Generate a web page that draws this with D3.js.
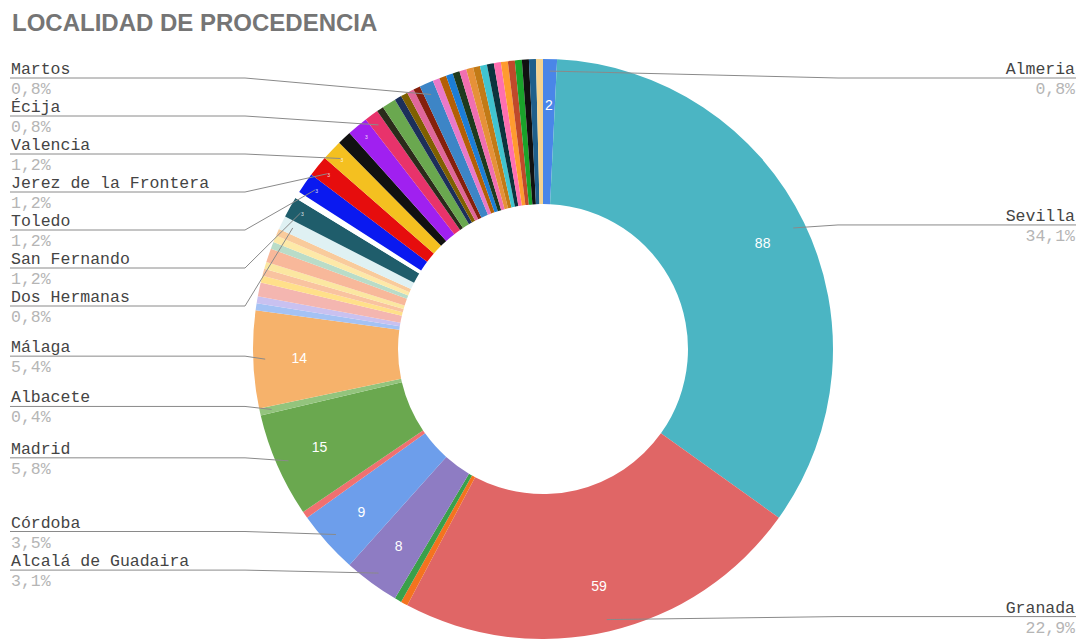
<!DOCTYPE html>
<html>
<head>
<meta charset="utf-8">
<script src="https://cdn.jsdelivr.net/npm/d3@7"></script>
<style>
  html, body { margin: 0; padding: 0; background: #fff; }
  svg { display: block; }
</style>
</head>
<body>
<svg id="chart" width="1083" height="639"></svg>
<script>
// Place of origin: one slice per locality, drawn clockwise from 12 o'clock.
// Unnamed localities carry null and get no outside label.
const categories = [
  "Almeria", "Sevilla", "Granada", null, null, "Alcalá de Guadaira", "Córdoba", null,
  "Madrid", "Albacete", "Málaga",
  null, null, null, null, null, null, null, null, null, null,
  "Dos Hermanas", "San Fernando", null, "Toledo", "Jerez de la Frontera", "Valencia", null, null,
  "Écija",
  null, null, null, null, null, null,
  "Martos",
  null, null, null, null,
  null, null, null, null, null, null, null, null, null, null, null, null
];

const values = [
  2, 88, 59, 1, 1, 8, 9, 1,
  15, 1, 14,
  1, 1, 2, 1, 1, 1, 2, 1, 1, 1,
  2, 3, 1, 3, 3, 3, 2, 3,
  2,
  1, 2, 1, 1, 1, 1,
  2,
  1, 1, 1, 1,
  1, 1, 1, 1, 1, 1, 1, 1, 1, 1, 1, 1
];

const colors = [
  "#4a86e8", "#4bb5c3", "#e06666", "#f4731f", "#3aa04a", "#8e7cc3", "#6d9eeb", "#f07070",
  "#6aa84f", "#93c47d", "#f6b26b",
  "#a4c2f4", "#c9c1f0", "#f4b6b0", "#ffe08a", "#f9c3a0", "#fbe7a1", "#f8b89a", "#b9dcc8", "#fde9a8", "#f9cb9c",
  "#dff1f3", "#1f5d6b", "#ffffff", "#0a19f0", "#e60d0d", "#f4c020", "#111111", "#a020f0",
  "#e8336b",
  "#2b2b1b", "#6aa84f", "#1c2f5a", "#7f6000", "#e06699", "#85200c",
  "#3d85c6",
  "#ea79c9", "#b45f06", "#1c7ed6", "#1e3a1e",
  "#f06fb0", "#e69138", "#c27a16", "#40c4d0", "#0c343d", "#ff6fb0", "#ff9b2f", "#c0492b", "#1aa32a", "#111111", "#1f5f8b", "#f6d38e"
];

const title = "LOCALIDAD DE PROCEDENCIA";

const W = 1083, H = 639;
const cx = 543, cy = 349;
const outerR = 290, innerR = 145;

const svg = d3.select("#chart");

svg.append("text")
  .attr("x", 12).attr("y", 31)
  .attr("font-family", "Arial, 'Liberation Sans', sans-serif")
  .attr("font-weight", "bold")
  .attr("font-size", 24)
  .attr("fill", "#757575")
  .text(title);

const rows = values.map((v, i) => ({ name: categories[i], value: v, color: colors[i] }));
const total = d3.sum(values);

const pie = d3.pie().sort(null).value(d => d.value).startAngle(0).endAngle(2 * Math.PI);
const arcs = pie(rows);

const arc = d3.arc().innerRadius(innerR).outerRadius(outerR);

const g = svg.append("g").attr("transform", `translate(${cx},${cy})`);

g.selectAll("path.slice")
  .data(arcs)
  .join("path")
  .attr("class", "slice")
  .attr("d", arc)
  .attr("fill", d => d.data.color);

// value text inside the ring
const midAngle = d => (d.startAngle + d.endAngle) / 2;
const polar = (a, r) => [Math.sin(a) * r, -Math.cos(a) * r];

g.selectAll("text.val")
  .data(arcs.filter(d => d.value >= 8 || d.index === 0))
  .join("text")
  .attr("class", "val")
  .attr("x", d => polar(midAngle(d), 244)[0])
  .attr("y", d => polar(midAngle(d), 244)[1])
  .attr("dy", "0.35em")
  .attr("text-anchor", "middle")
  .attr("font-family", "Arial, 'Liberation Sans', sans-serif")
  .attr("font-size", 14)
  .attr("fill", "#ffffff")
  .text(d => d.value);

g.selectAll("text.valsmall")
  .data(arcs.filter(d => d.value === 3))
  .join("text")
  .attr("class", "valsmall")
  .attr("x", d => polar(midAngle(d), 276)[0])
  .attr("y", d => polar(midAngle(d), 276)[1])
  .attr("dy", "0.35em")
  .attr("text-anchor", "middle")
  .attr("font-family", "Arial, 'Liberation Sans', sans-serif")
  .attr("font-size", 5)
  .attr("fill", "#ffffff")
  .attr("opacity", 0.85)
  .text(d => d.value);

// outside labels with leader lines
const fmtPct = v => (v / total * 100).toFixed(1).replace(".", ",") + "%";
const labelGap = 38, topY = 78, bottomY = 620;

function layout(list) {
  list.sort((a, b) => a.want - b.want);
  // merge overlapping labels into clusters centred on their wanted positions
  let clusters = list.map(l => ({ items: [l], want: l.want }));
  let changed = true;
  const place = c => {
    const n = c.items.length;
    const mean = d3.mean(c.items, l => l.want);
    c.start = mean - (n - 1) * labelGap / 2;
    c.start = Math.max(topY, Math.min(c.start, bottomY - (n - 1) * labelGap));
    c.end = c.start + (n - 1) * labelGap;
  };
  clusters.forEach(place);
  while (changed) {
    changed = false;
    for (let i = 0; i < clusters.length - 1; i++) {
      if (clusters[i].end + labelGap > clusters[i + 1].start) {
        clusters[i].items = clusters[i].items.concat(clusters[i + 1].items);
        clusters.splice(i + 1, 1);
        place(clusters[i]);
        changed = true;
        break;
      }
    }
  }
  clusters.forEach(c => c.items.forEach((l, k) => { l.y = c.start + k * labelGap; }));
}

const labels = arcs.filter(d => d.data.name).map(d => {
  const a = midAngle(d);
  const p = polar(a, outerR - 12);
  return { d, name: d.data.name, ax: cx + p[0], ay: cy + p[1], want: cy + p[1] - 3, right: a < Math.PI };
});

const leftL = labels.filter(l => !l.right);
const rightL = labels.filter(l => l.right);
layout(leftL);
layout(rightL);

const lg = svg.append("g");
const monoFont = "'Courier New', 'Liberation Mono', monospace";

leftL.forEach(l => {
  const bendX = Math.min(245, l.ax - 8);
  lg.append("path")
    .attr("d", d3.line()([[10, l.y], [bendX, l.y], [l.ax, l.ay]]))
    .attr("fill", "none").attr("stroke", "#8a8a8a").attr("stroke-width", 1);
  lg.append("text").attr("x", 11).attr("y", l.y - 4)
    .attr("font-family", monoFont).attr("font-size", 16.5).attr("fill", "#444")
    .text(l.name);
  lg.append("text").attr("x", 11).attr("y", l.y + 16)
    .attr("font-family", monoFont).attr("font-size", 16.5).attr("fill", "#b5b5b5")
    .text(fmtPct(l.d.value));
});

rightL.forEach(l => {
  const bendX = Math.max(838, l.ax + 8);
  lg.append("path")
    .attr("d", d3.line()([[1076, l.y], [bendX, l.y], [l.ax, l.ay]]))
    .attr("fill", "none").attr("stroke", "#8a8a8a").attr("stroke-width", 1);
  lg.append("text").attr("x", 1075).attr("y", l.y - 4)
    .attr("text-anchor", "end")
    .attr("font-family", monoFont).attr("font-size", 16.5).attr("fill", "#444")
    .text(l.name);
  lg.append("text").attr("x", 1075).attr("y", l.y + 16)
    .attr("text-anchor", "end")
    .attr("font-family", monoFont).attr("font-size", 16.5).attr("fill", "#b5b5b5")
    .text(fmtPct(l.d.value));
});
</script>
</body>
</html>
